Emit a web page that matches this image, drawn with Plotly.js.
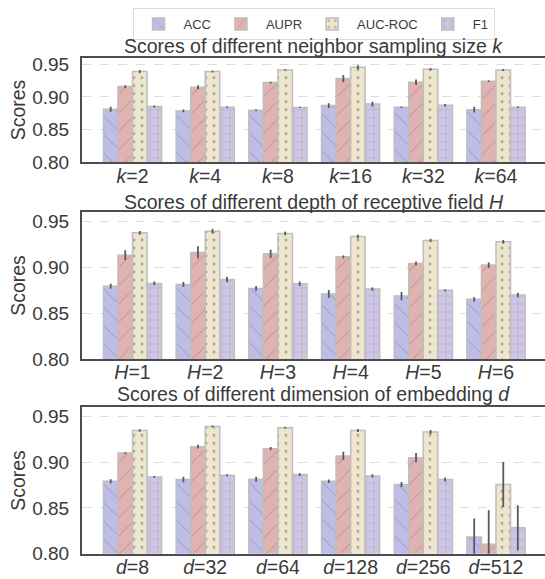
<!DOCTYPE html>
<html>
<head>
<meta charset="utf-8">
<script src="https://cdn.plot.ly/plotly-3.0.1.min.js"></script>
<style>html,body{margin:0;padding:0;background:#fff;}#chart{width:545px;height:579px;}</style>
</head>
<body>
<div id="chart"></div>
<script>
// ---------- data ----------
const metrics = ['ACC', 'AUPR', 'AUC-ROC', 'F1'];

const kValues = ['2', '4', '8', '16', '32', '64'];
const kACC  = [0.881, 0.8786, 0.8796, 0.8867, 0.8842, 0.8805];
const kAUPR = [0.9158, 0.9148, 0.9219, 0.928, 0.9225, 0.924];
const kAUC  = [0.9387, 0.9387, 0.9413, 0.9455, 0.9424, 0.9413];
const kF1   = [0.8855, 0.8842, 0.884, 0.889, 0.8873, 0.8842];
const kACCerr  = [0.0038, 0.002, 0.001, 0.0035, 0.001, 0.0043];
const kAUPRerr = [0.002, 0.003, 0.0015, 0.0056, 0.0043, 0.0012];
const kAUCerr  = [0.0025, 0.0015, 0.001, 0.003, 0.002, 0.0015];
const kF1err   = [0.0015, 0.001, 0.001, 0.0038, 0.002, 0.001];

const hValues = ['1', '2', '3', '4', '5', '6'];
const hACC  = [0.8793, 0.8812, 0.8768, 0.8707, 0.8685, 0.8649];
const hAUPR = [0.913, 0.916, 0.9145, 0.9112, 0.904, 0.9022];
const hAUC  = [0.9373, 0.9391, 0.9366, 0.9333, 0.929, 0.9275];
const hF1   = [0.8823, 0.8866, 0.8819, 0.8761, 0.8747, 0.8696];
const hACCerr  = [0.0027, 0.0027, 0.0027, 0.0043, 0.0045, 0.0024];
const hAUPRerr = [0.0054, 0.0067, 0.0045, 0.0016, 0.002, 0.003];
const hAUCerr  = [0.002, 0.0025, 0.002, 0.002, 0.0018, 0.002];
const hF1err   = [0.002, 0.003, 0.0025, 0.0018, 0.001, 0.0024];

const dValues = ['8', '32', '64', '128', '256', '512'];
const dACC  = [0.8792, 0.881, 0.8814, 0.8792, 0.8756, 0.8182];
const dAUPR = [0.910, 0.917, 0.9148, 0.9068, 0.905, 0.8102];
const dAUC  = [0.9347, 0.9391, 0.9377, 0.9347, 0.9329, 0.8756];
const dF1   = [0.8839, 0.8857, 0.8865, 0.885, 0.881, 0.8283];
const dACCerr  = [0.0022, 0.003, 0.0027, 0.002, 0.0027, 0.0204];
const dAUPRerr = [0.001, 0.002, 0.0018, 0.0045, 0.005, 0.0374];
const dAUCerr  = [0.0013, 0.001, 0.001, 0.0016, 0.0022, 0.0245];
const dF1err   = [0.001, 0.001, 0.0015, 0.0018, 0.0022, 0.0247];

const panelTitles = [
  'Scores of different neighbor sampling size <i>k</i>',
  'Scores of different depth of receptive field <i>H</i>',
  'Scores of different dimension of embedding <i>d</i>'
];
const panelVars = ['k', 'H', 'd'];

// ---------- styles ----------
const fills = ['rgb(189,189,232)', 'rgb(224,178,176)', 'rgb(238,230,204)', 'rgb(206,197,231)'];
const patterns = [
  {shape: '\\', size: 13, solidity: 0.07},
  {shape: '/', size: 13, solidity: 0.07},
  {shape: '.', size: 8, solidity: 0.1},
  {shape: '+', size: 8, solidity: 0.09}
];
const FONT = 'Liberation Sans, Arial, Helvetica, sans-serif';
const TXT = '#3a3a3a';

const panels = [
  {cats: kValues, vals: [kACC, kAUPR, kAUC, kF1], errs: [kACCerr, kAUPRerr, kAUCerr, kF1err]},
  {cats: hValues, vals: [hACC, hAUPR, hAUC, hF1], errs: [hACCerr, hAUPRerr, hAUCerr, hF1err]},
  {cats: dValues, vals: [dACC, dAUPR, dAUC, dF1], errs: [dACCerr, dAUPRerr, dAUCerr, dF1err]}
];

const traces = [];
panels.forEach((p, pi) => {
  const sfx = pi === 0 ? '' : String(pi + 1);
  const xs = p.cats.map(c => '<i>' + panelVars[pi] + '</i>=' + c);
  metrics.forEach((m, mi) => {
    traces.push({
      type: 'bar',
      name: m,
      x: xs,
      y: p.vals[mi],
      xaxis: 'x' + sfx,
      yaxis: 'y' + sfx,
      showlegend: pi === 0,
      legendgroup: m,
      marker: {
        color: fills[mi],
        line: {color: 'rgb(190,190,190)', width: 1.5},
        pattern: Object.assign({fgcolor: '#8c8c8c', fgopacity: 0.75, bgcolor: fills[mi], fillmode: 'replace'}, patterns[mi])
      },
      error_y: {type: 'data', array: p.errs[mi], visible: true, color: '#5a5a5a', thickness: 1.8, width: 0}
    });
  });
});

const H = 579;
const dom = (top, bot) => [(H - bot) / H, (H - top) / H];
const yDomains = [dom(57.7, 162.3), dom(212, 359), dom(407.3, 553.7)];

const layout = {
  width: 545, height: 579,
  margin: {l: 82, r: 0, t: 0, b: 0, autoexpand: false},
  paper_bgcolor: '#fff', plot_bgcolor: '#fff',
  font: {family: FONT, color: TXT, size: 18},
  barmode: 'group', bargap: 0.2, bargroupgap: 0,
  showlegend: true,
  legend: {
    orientation: 'h', x: 0.5, xanchor: 'center', y: (H - 8) / H, yanchor: 'top', yref: 'paper',
    font: {family: FONT, size: 13, color: TXT},
    bordercolor: '#dcdcdc', borderwidth: 1, bgcolor: '#fff',
    traceorder: 'normal', itemwidth: 40
  },
  annotations: panelTitles.map((t, i) => ({
    text: t, xref: 'paper', yref: 'paper', x: 0.5, xanchor: 'center',
    y: [(H - 46) / H, (H - 202) / H, (H - 394) / H][i], yanchor: 'middle',
    showarrow: false, font: {family: FONT, size: 19.5, color: TXT}
  }))
};

[0, 1, 2].forEach(i => {
  const sfx = i === 0 ? '' : String(i + 1);
  layout['xaxis' + sfx] = {
    domain: [0, 1], anchor: 'y' + sfx, type: 'category',
    range: [-0.695, 5.674], showgrid: false,
    showline: true, linecolor: '#4d4d4d', linewidth: 2, mirror: true,
    ticks: '', tickfont: {size: 19.5, color: TXT}, automargin: false, zeroline: false,
    ticklabelstandoff: -5
  };
  layout['yaxis' + sfx] = {
    domain: yDomains[i], anchor: 'x' + sfx,
    range: [0.80, 0.96], tickvals: [0.80, 0.85, 0.90, 0.95], ticktext: ['0.80', '0.85', '0.90', '0.95'],
    showgrid: true, gridcolor: '#dddddd', griddash: 'dash', gridwidth: 1,
    showline: true, linecolor: '#4d4d4d', linewidth: 2, zeroline: false,
    ticks: '', tickfont: {size: 19, color: TXT}, automargin: false,
    ticklabelstandoff: 7,
    title: {text: 'Scores', font: {size: 19.5, color: TXT}, standoff: 1}
  };
});

Plotly.newPlot('chart', traces, layout, {displayModeBar: false, staticPlot: true});
</script>
</body>
</html>
